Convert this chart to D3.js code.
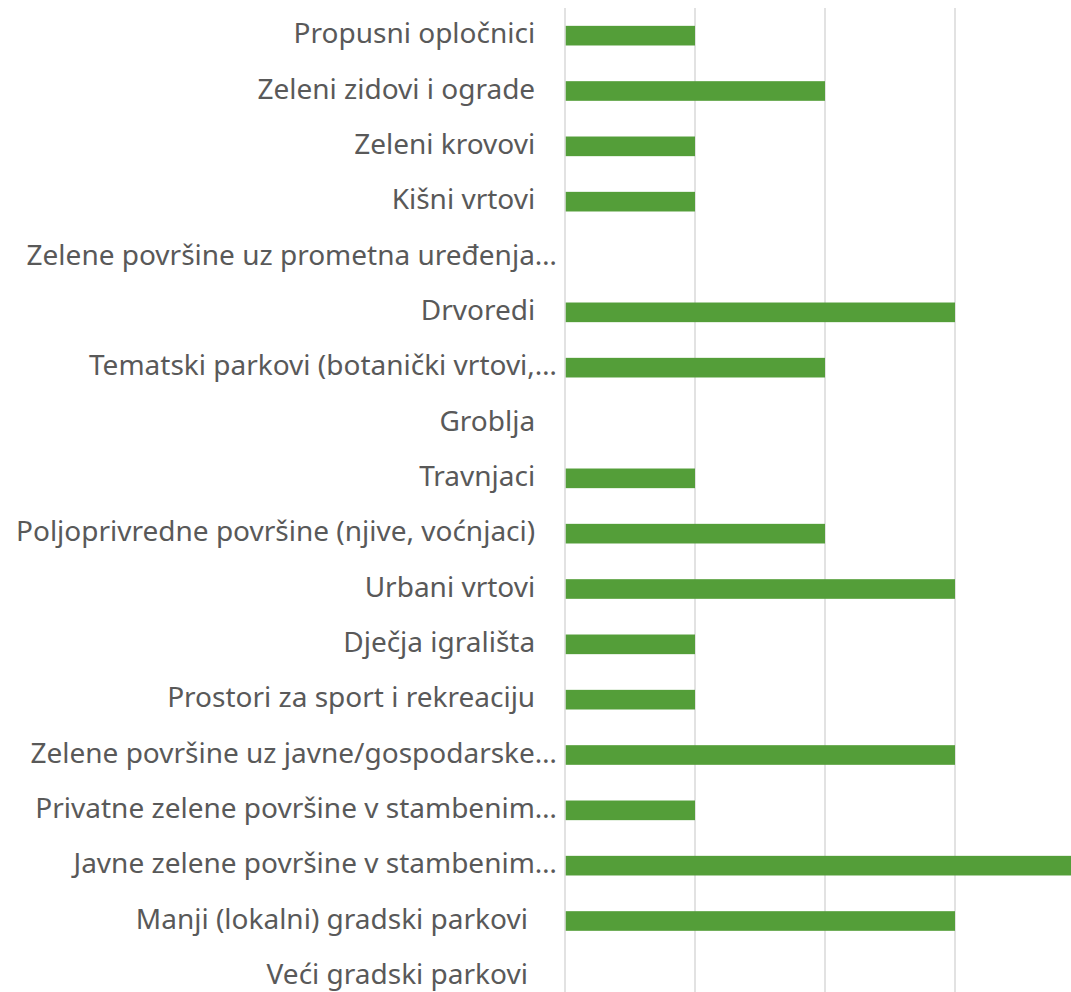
<!DOCTYPE html>
<html><head><meta charset="utf-8">
<script src="https://cdn.jsdelivr.net/npm/d3@7"></script>
<style>body{margin:0;background:#fff}svg{display:block}</style>
</head><body>
<svg id="c" width="1071" height="992"></svg>
<script>
const categories = [
  "Propusni opločnici   ",
  "Zeleni zidovi i ograde   ",
  "Zeleni krovovi   ",
  "Kišni vrtovi   ",
  "Zelene površine uz prometna uređenja…",
  "Drvoredi   ",
  "Tematski parkovi (botanički vrtovi,…",
  "Groblja   ",
  "Travnjaci   ",
  "Poljoprivredne površine (njive, voćnjaci)   ",
  "Urbani vrtovi   ",
  "Dječja igrališta   ",
  "Prostori za sport i rekreaciju   ",
  "Zelene površine uz javne/gospodarske…",
  "Privatne zelene površine v stambenim…",
  "Javne zelene površine v stambenim…",
  "Manji (lokalni) gradski parkovi    ",
  "Veći gradski parkovi    "
];
const values = [1,2,1,1,0,3,2,0,1,2,3,1,1,3,1,4,3,0];
const ticks = [0,1,2,3,4];

const svg = d3.select("#c");
const x = d3.scaleLinear().domain([0,4]).range([565,1085]);
const y = d3.scaleBand().domain(categories).range([8,1004]).paddingInner(0.645).paddingOuter(0.3225);

svg.append("g").selectAll("line").data(ticks).join("line")
  .attr("x1", d=>x(d)).attr("x2", d=>x(d))
  .attr("y1", 8).attr("y2", 1004)
  .attr("stroke", "#d9d9d9").attr("stroke-width", 1.5);

svg.append("g").selectAll("rect").data(values).join("rect")
  .attr("x", x(0)+0.75)
  .attr("y", (d,i)=>y(categories[i]))
  .attr("width", d=>Math.max(0, x(d)-x(0)-0.75))
  .attr("height", y.bandwidth())
  .attr("fill", "#549e39");

svg.append("g").selectAll("text").data(categories).join("text")
  .attr("x", 557)
  .attr("y", d=>y(d)+y.bandwidth()/2)
  .attr("dy", "0.27em")
  .attr("text-anchor", "end")
  .style("white-space", "pre")
  .attr("font-family", "'Noto Sans', sans-serif")
  .attr("font-size", 28)
  .attr("fill", "#595959")
  .text(d=>d);
</script>
</body></html>
